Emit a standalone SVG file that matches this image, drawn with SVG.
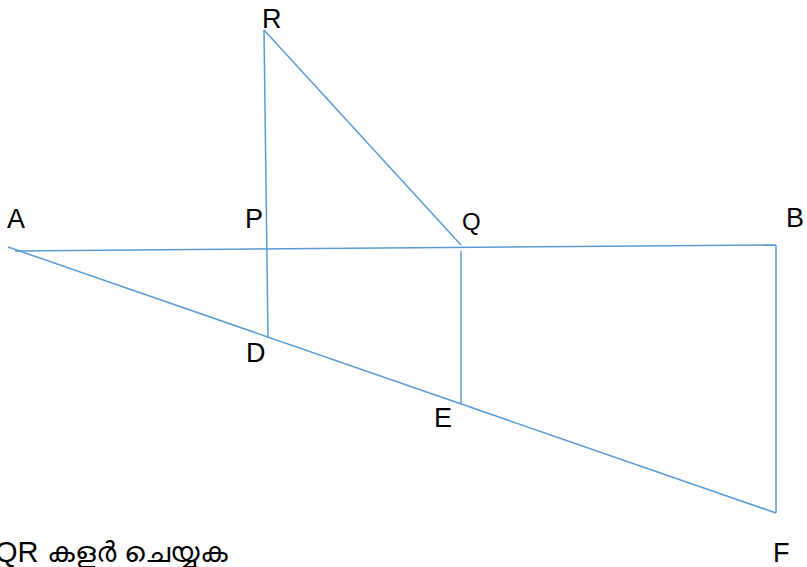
<svg xmlns="http://www.w3.org/2000/svg" width="807" height="567" viewBox="0 0 807 567">
<style>
.ln{stroke:#5B9BD5;stroke-width:1.5;fill:none}
.lb{font-family:"Liberation Sans",Arial,"Noto Sans",sans-serif;font-size:27px;fill:#000}
</style>
<rect width="807" height="567" fill="#fff"/>
<g id="connectors">
<line class="ln" x1="15" y1="251" x2="776" y2="245"/>
<line class="ln" x1="8" y1="247" x2="776" y2="513"/>
<line class="ln" x1="776" y1="245" x2="776" y2="513"/>
<line class="ln" x1="264" y1="30" x2="268" y2="338"/>
<line class="ln" x1="264" y1="30" x2="461" y2="245"/>
<line class="ln" x1="461" y1="251" x2="461" y2="404"/>
</g>
<g id="A"><text class="lb" x="7" y="228">A</text></g>
<g id="R"><text class="lb" x="262" y="28">R</text></g>
<g id="P"><text class="lb" x="245" y="228">P</text></g>
<g id="Q"><text class="lb" x="462" y="230" style="font-size:24px">Q</text></g>
<g id="B"><text class="lb" x="786" y="227">B</text></g>
<g id="D"><text class="lb" x="246" y="362">D</text></g>
<g id="E"><text class="lb" x="434" y="427">E</text></g>
<g id="F"><text class="lb" x="773" y="562">F</text></g>
<g id="caption"><text class="lb" x="-5" y="562" style="font-size:29px">QR കളർ ചെയ്യുക</text></g>
</svg>
